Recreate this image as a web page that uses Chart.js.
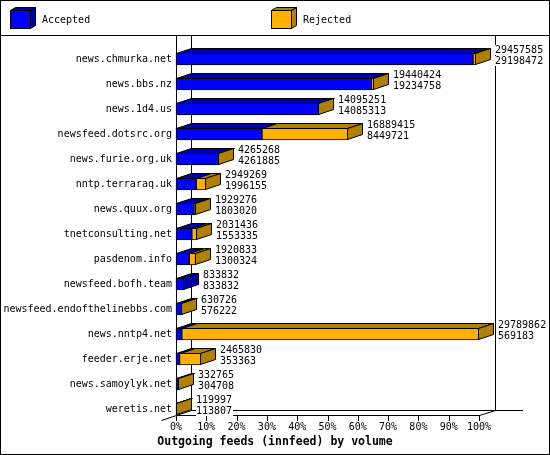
<!DOCTYPE html>
<html>
<head>
<meta charset="utf-8">
<script src="https://cdn.jsdelivr.net/npm/chart.js@4.4.1/dist/chart.umd.min.js"></script>
<style>
  html, body { margin: 0; padding: 0; background: #fff; }
</style>
</head>
<body>
<canvas id="feedChart" width="550" height="455"></canvas>
<script>
// feed peers, top to bottom
const FEED_HOSTS = [
    'news.chmurka.net', 'news.bbs.nz', 'news.1d4.us', 'newsfeed.dotsrc.org',
    'news.furie.org.uk', 'nntp.terraraq.uk', 'news.quux.org', 'tnetconsulting.net',
    'pasdenom.info', 'newsfeed.bofh.team', 'newsfeed.endofthelinebbs.com',
    'news.nntp4.net', 'feeder.erje.net', 'news.samoylyk.net', 'weretis.net'
];

// articles offered (upper number) and accepted (lower number)
const FEED_OFFERED = [
    29457585, 19440424, 14095251, 16889415, 4265268, 2949269, 1929276, 2031436,
    1920833, 833832, 630726, 29789862, 2465830, 332765, 119997
];
const FEED_ACCEPTED = [
    29198472, 19234758, 14085313, 8449721, 4261885, 1996155, 1803020, 1553335,
    1300324, 833832, 576222, 569183, 353363, 304708, 113807
];

const SERIES_LABELS = ['Accepted', 'Rejected'];
const TICK_STEP = 10;
const TITLE_TEXT = 'Outgoing feeds (innfeed) by volume';

// bar lengths are a share of the biggest offered count
const SCALE_MAX = Math.max(...FEED_OFFERED);
const acceptedPct = FEED_ACCEPTED.map(v => v / SCALE_MAX * 100);
const rejectedPct = FEED_OFFERED.map((v, i) => {
    const diff = v - FEED_ACCEPTED[i];
    return diff > 0 ? diff / SCALE_MAX * 100 : null;
});

const DX = 15, DY = 5, BAR_H = 12;
const FONT = "'DejaVu Sans Mono', monospace";

Chart.defaults.font.family = FONT;
Chart.defaults.font.size = 10;
Chart.defaults.color = '#000';

function poly(c, pts, fill) {
    c.beginPath();
    c.moveTo(pts[0][0], pts[0][1]);
    for (let i = 1; i < pts.length; i++) c.lineTo(pts[i][0], pts[i][1]);
    c.closePath();
    if (fill) { c.fillStyle = fill; c.fill(); }
    c.stroke();
}

function seg(c, x1, y1, x2, y2) {
    c.beginPath();
    c.moveTo(x1, y1);
    c.lineTo(x2, y2);
    c.stroke();
}

const box3d = {
    id: 'box3d',
    beforeDraw(chart) {
        const c = chart.ctx;
        c.save();
        c.fillStyle = '#fff';
        c.fillRect(0, 0, chart.width, chart.height);
        c.strokeStyle = '#000';
        c.lineWidth = 1;
        c.strokeRect(0.5, 0.5, chart.width - 1, chart.height - 1);
        seg(c, 0, 35.5, chart.width, 35.5);

        // legend cubes
        chart.data.datasets.forEach((ds, i) => {
            const x = i === 0 ? 10 : 271, y = 10, w = 20, h = 18, dx = 5, dy = 3;
            poly(c, [[x + 0.5, y + 0.5], [x + dx + 0.5, y - dy + 0.5], [x + w + dx + 0.5, y - dy + 0.5], [x + w + 0.5, y + 0.5]], ds.shadeColor);
            poly(c, [[x + w + 0.5, y + 0.5], [x + w + dx + 0.5, y - dy + 0.5], [x + w + dx + 0.5, y + h - dy + 0.5], [x + w + 0.5, y + h + 0.5]], ds.shadeColor);
            c.fillStyle = ds.backgroundColor;
            c.fillRect(x, y, w, h);
            c.strokeRect(x + 0.5, y + 0.5, w, h);
            c.fillStyle = '#000';
            c.font = '10px ' + FONT;
            c.textBaseline = 'middle';
            c.textAlign = 'left';
            c.fillText(ds.label, x + 32, 20);
        });
        c.restore();
    },
    beforeDatasetsDraw(chart) {
        const c = chart.ctx;
        const { x, y } = chart.scales;
        const L = x.left, R = Math.round(x.right);
        const floor = Math.round(y.bottom + BAR_H / 2);
        const top = 36;
        c.save();
        c.strokeStyle = '#000';
        c.lineWidth = 1;
        // back walls and floor
        seg(c, L + DX + 0.5, top, L + DX + 0.5, floor - DY + 0.5);
        seg(c, R + DX + 1.5, top, R + DX + 1.5, floor - DY + 0.5);
        seg(c, L + DX, floor - DY + 0.5, R + DX + 29, floor - DY + 0.5);
        seg(c, L - DX + 0.5, floor + DY + 0.5, L + DX + 0.5, floor - DY + 0.5);
        seg(c, R + 0.5, floor + 0.5, R + DX + 1.5, floor - DY + 0.5);
        // front axis
        seg(c, L + 0.5, top, L + 0.5, floor + 0.5);
        seg(c, L, floor + 0.5, R + 1, floor + 0.5);
        x.ticks.forEach((t, i) => {
            const px = Math.round(x.getPixelForTick(i)) + 0.5;
            seg(c, px, floor, px, floor + 6);
        });
        c.restore();
    },
    afterDatasetsDraw(chart) {
        const c = chart.ctx;
        const sets = chart.data.datasets;
        c.save();
        c.strokeStyle = '#000';
        c.lineWidth = 1;
        FEED_HOSTS.forEach((host, row) => {
            let outer = null, cy = 0;
            sets.forEach((ds, di) => {
                if (ds.data[row] == null) return;
                const el = chart.getDatasetMeta(di).data[row];
                const p = el.getProps(['x', 'y', 'base', 'height'], true);
                const t = Math.round(p.y - p.height / 2) + 0.5;
                const x0 = Math.round(Math.min(p.base, p.x)) + 0.5;
                const x1 = Math.round(Math.max(p.base, p.x)) - 0.5;
                poly(c, [[x0, t], [x0 + DX, t - DY], [x1 + DX, t - DY], [x1, t]], ds.shadeColor);
                outer = { x1, t, b: t + BAR_H - 1, shade: ds.shadeColor };
                cy = p.y;
            });
            if (!outer) return;
            const { x1, t, b, shade } = outer;
            poly(c, [[x1, t], [x1 + DX, t - DY], [x1 + DX, b - DY], [x1, b]], shade);

            // offered / accepted numbers
            c.font = '10px ' + FONT;
            c.textAlign = 'left';
            c.textBaseline = 'middle';
            const lx = Math.round(x1 + DX + 4);
            [[String(FEED_OFFERED[row]), cy - 9], [String(FEED_ACCEPTED[row]), cy + 2]].forEach(([txt, ty]) => {
                const w = c.measureText(txt).width;
                c.fillStyle = '#fff';
                c.fillRect(lx, Math.round(ty) - 5, w + 1, 10);
                c.fillStyle = '#000';
                c.fillText(txt, lx, ty);
            });
        });
        c.restore();
    },
    afterDraw(chart) {
        const c = chart.ctx;
        c.save();
        c.font = 'bold 11.5px ' + FONT;
        c.fillStyle = '#000';
        c.textAlign = 'center';
        c.textBaseline = 'alphabetic';
        c.fillText(TITLE_TEXT, 275, 445);
        c.restore();
    }
};

new Chart(document.getElementById('feedChart'), {
    type: 'bar',
    data: {
        labels: FEED_HOSTS,
        datasets: [{
            label: SERIES_LABELS[0],
            data: acceptedPct,
            backgroundColor: '#0000ff',
            shadeColor: '#0000a8',
            borderColor: '#000',
            borderWidth: 1,
            borderSkipped: false,
            barThickness: BAR_H,
            clip: false
        }, {
            label: SERIES_LABELS[1],
            data: rejectedPct,
            backgroundColor: '#ffb000',
            shadeColor: '#b08000',
            borderColor: '#000',
            borderWidth: 1,
            borderSkipped: false,
            barThickness: BAR_H,
            clip: false
        }]
    },
    options: {
        indexAxis: 'y',
        responsive: false,
        animation: false,
        layout: { padding: { top: 59, right: 71, bottom: 0, left: 0 } },
        plugins: {
            legend: { display: false },
            title: { display: false },
            tooltip: { enabled: false }
        },
        scales: {
            x: {
                stacked: true,
                min: 0,
                max: 100,
                grid: { display: false, drawTicks: false },
                border: { display: false },
                ticks: {
                    stepSize: TICK_STEP,
                    padding: 12,
                    maxRotation: 0,
                    callback: v => v + '%'
                },
                afterFit: s => { s.height = 46; }
            },
            y: {
                stacked: true,
                offset: false,
                grid: { display: false, drawTicks: false },
                border: { display: false },
                ticks: { padding: 4, autoSkip: false },
                afterFit: s => { s.width = 176; }
            }
        }
    },
    plugins: [box3d]
});
</script>
</body>
</html>
